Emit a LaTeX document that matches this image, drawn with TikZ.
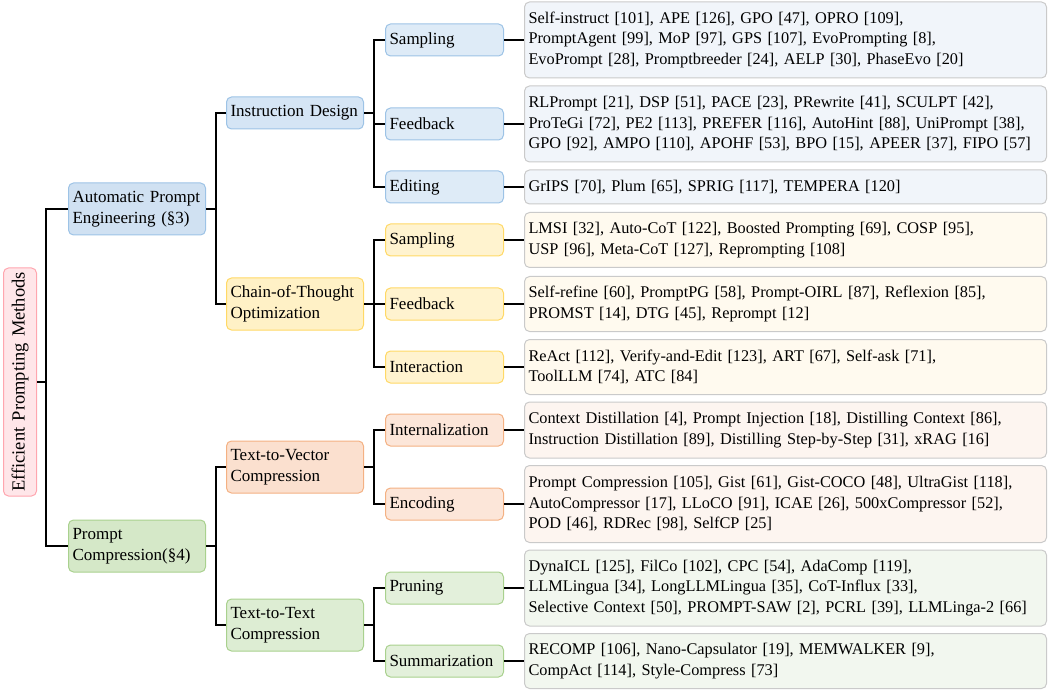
\documentclass[tikz,border=0pt]{standalone}
\usepackage{fontspec}
\setmainfont{Liberation Serif}
\usepackage{tikz}
\definecolor{rootfill}{HTML}{FFE6E9}
\definecolor{rootline}{HTML}{FFA6AF}
\definecolor{blueA}{HTML}{D0E1F2}
\definecolor{blueB}{HTML}{D5E5F5}
\definecolor{blueC}{HTML}{DEEBF7}
\definecolor{blueline}{HTML}{9DC3E6}
\definecolor{blueleaf}{HTML}{F1F5FA}
\definecolor{yelB}{HTML}{FFF1C6}
\definecolor{yelC}{HTML}{FFF3CF}
\definecolor{yelline}{HTML}{FFD966}
\definecolor{yelleaf}{HTML}{FFFAEF}
\definecolor{oraB}{HTML}{FBE0CF}
\definecolor{oraC}{HTML}{FCE6D9}
\definecolor{oraline}{HTML}{F4B183}
\definecolor{oraleaf}{HTML}{FDF5F0}
\definecolor{greA}{HTML}{D5E8C8}
\definecolor{greB}{HTML}{DDEDD3}
\definecolor{greC}{HTML}{E3F0DB}
\definecolor{greline}{HTML}{A9D18E}
\definecolor{greleaf}{HTML}{F2F7EF}
\definecolor{leafline}{HTML}{CACACA}

\begin{document}
\begin{tikzpicture}[x=1pt,y=-1pt,
        box/.style={draw, rounded corners=5pt, line width=1pt, align=left, anchor=west,
                inner xsep=4pt, inner ysep=0pt, font=\fontsize{16.3}{20.5}\selectfont},
        lvone/.style={box, text width=129pt, minimum height=52pt, font=\fontsize{17}{21}\selectfont},
        lvtwo/.style={box, text width=129pt, minimum height=#1, font=\fontsize{17}{21}\selectfont},
        lvthree/.style={box, text width=110pt, minimum height=32pt, font=\fontsize{17}{21}\selectfont},
        leaf/.style={box, draw=leafline, text width=514pt, minimum height=#1},
        link/.style={line width=1.3pt}]
        \useasboundingbox (0,0) rectangle (1051,692);

        \node (root) [box, anchor=center, align=center, rotate=90, fill=rootfill, draw=rootline,
                text width=220pt, minimum height=33pt, font=\fontsize{18.5}{21}\selectfont] at (20,382) {Efficient Prompting Methods};

        \node (ape) [lvone, fill=blueA, draw=blueline] at (68,209) {Automatic Prompt\\Engineering (§3)};
        \node (pc) [lvone, fill=greA, draw=greline] at (68,546) {Prompt\\Compression(§4)};

        \node (insd) [lvtwo=32pt, fill=blueB, draw=blueline] at (226,113) {Instruction Design};
        \node (cot) [lvtwo=52pt, fill=yelB, draw=yelline] at (226,304) {Chain-of-Thought\\Optimization};
        \node (ttv) [lvtwo=52pt, fill=oraB, draw=oraline] at (226,467) {Text-to-Vector\\Compression};
        \node (ttt) [lvtwo=52pt, fill=greB, draw=greline] at (226,625) {Text-to-Text\\Compression};

        \node (isamp) [lvthree, fill=blueC, draw=blueline] at (385,40) {Sampling};
        \node (ifeed) [lvthree, fill=blueC, draw=blueline] at (385,124) {Feedback};
        \node (iedit) [lvthree, fill=blueC, draw=blueline] at (385,187) {Editing};
        \node (csamp) [lvthree, fill=yelC, draw=yelline] at (385,240) {Sampling};
        \node (cfeed) [lvthree, fill=yelC, draw=yelline] at (385,304) {Feedback};
        \node (cinter) [lvthree, fill=yelC, draw=yelline] at (385,367) {Interaction};
        \node (vint) [lvthree, fill=oraC, draw=oraline] at (385,430) {Internalization};
        \node (venc) [lvthree, fill=oraC, draw=oraline] at (385,504) {Encoding};
        \node (tprun) [lvthree, fill=greC, draw=greline] at (385,588) {Pruning};
        \node (tsumm) [lvthree, fill=greC, draw=greline] at (385,661) {Summarization};

        \node (isampl) [leaf=76pt, fill=blueleaf] at (524,40) {Self-instruct [101], APE [126], GPO [47], OPRO [109],\\PromptAgent [99], MoP [97], GPS [107], EvoPrompting [8],\\EvoPrompt [28], Promptbreeder [24], AELP [30], PhaseEvo [20]};
        \node (ifeedl) [leaf=76pt, fill=blueleaf] at (524,124) {RLPrompt [21], DSP [51], PACE [23], PRewrite [41], SCULPT [42],\\ProTeGi [72], PE2 [113], PREFER [116], AutoHint [88], UniPrompt [38],\\GPO [92], AMPO [110], APOHF [53], BPO [15], APEER [37], FIPO [57]};
        \node (ieditl) [leaf=34pt, fill=blueleaf] at (524,187) {GrIPS [70], Plum [65], SPRIG [117], TEMPERA [120]};
        \node (csampl) [leaf=55pt, fill=yelleaf] at (524,240) {LMSI [32], Auto-CoT [122], Boosted Prompting [69], COSP [95],\\USP [96], Meta-CoT [127], Reprompting [108]};
        \node (cfeedl) [leaf=55pt, fill=yelleaf] at (524,304) {Self-refine [60], PromptPG [58], Prompt-OIRL [87], Reflexion [85],\\PROMST [14], DTG [45], Reprompt [12]};
        \node (cinterl) [leaf=55pt, fill=yelleaf] at (524,367) {ReAct [112], Verify-and-Edit [123], ART [67], Self-ask [71],\\ToolLLM [74], ATC [84]};
        \node (vintl) [leaf=56pt, fill=oraleaf] at (524,430) {Context Distillation [4], Prompt Injection [18], Distilling Context [86],\\Instruction Distillation [89], Distilling Step-by-Step [31], xRAG [16]};
        \node (vencl) [leaf=77pt, fill=oraleaf] at (524,504) {Prompt Compression [105], Gist [61], Gist-COCO [48], UltraGist [118],\\AutoCompressor [17], LLoCO [91], ICAE [26], 500xCompressor [52],\\POD [46], RDRec [98], SelfCP [25]};
        \node (tprunl) [leaf=76pt, fill=greleaf] at (524,588) {DynaICL [125], FilCo [102], CPC [54], AdaComp [119],\\LLMLingua [34], LongLLMLingua [35], CoT-Influx [33],\\Selective Context [50], PROMPT-SAW [2], PCRL [39], LLMLinga-2 [66]};
        \node (tsumml) [leaf=55pt, fill=greleaf] at (524,661) {RECOMP [106], Nano-Capsulator [19], MEMWALKER [9],\\CompAct [114], Style-Compress [73]};

        \draw[link] (root.south) -- ++(9,0) |- (ape.west);
        \draw[link] (root.south) -- ++(9,0) |- (pc.west);
        \foreach \p/\c in {ape/insd, ape/cot, pc/ttv, pc/ttt,
                insd/isamp, insd/ifeed, insd/iedit, cot/csamp, cot/cfeed, cot/cinter,
                ttv/vint, ttv/venc, ttt/tprun, ttt/tsumm}
                \draw[link] (\p.east) -- ++(10,0) |- (\c.west);
        \foreach \c in {isamp, ifeed, iedit, csamp, cfeed, cinter, vint, venc, tprun, tsumm}
                \draw[link] (\c.east) -- (\c l.west);
\end{tikzpicture}
\end{document}
